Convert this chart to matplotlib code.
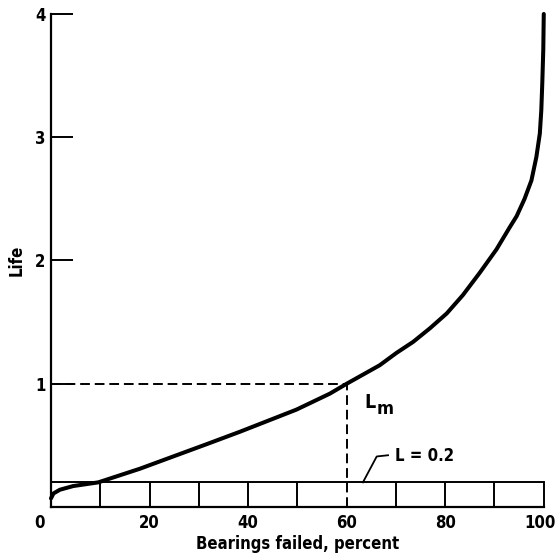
import matplotlib
matplotlib.use("Agg")
import matplotlib.pyplot as plt

plt.rcParams['font.family'] = ['DejaVu Sans']
plt.rcParams['font.stretch'] = 'condensed'
plt.rcParams['font.weight'] = 'bold'

## Data
pct_failed = [0, 0.5, 1.8, 4.5, 9.6, 18, 24.8, 31.6, 38.3, 43.1, 49.8, 56.6, 60,
              66.7, 70.1, 73.5, 76.9, 80.3, 83.6, 87, 90.4, 93.1, 94.5, 96.1,
              97.5, 98.5, 99.2, 99.5, 99.7, 99.9, 100]
life = [0.07, 0.11, 0.14, 0.17, 0.2, 0.31, 0.41, 0.51, 0.61, 0.685, 0.79, 0.92, 1.0,
        1.15, 1.25, 1.34, 1.45, 1.57, 1.72, 1.90, 2.09, 2.27, 2.36, 2.50,
        2.65, 2.84, 3.03, 3.22, 3.44, 3.71, 4.0]
x_ticks = [0, 20, 40, 60, 80, 100]
y_ticks = [1, 2, 3, 4]
grid_x = [10, 20, 30, 40, 50, 70, 80, 90, 100]
L_limit = 0.2
L_median = 1.0
pct_median = 60
leader_x = [63.3, 66.1, 68.4]
leader_y = [0.2, 0.41, 0.42]

## Figure
fig = plt.figure(figsize=(5.56, 5.59), dpi=100)
ax = fig.add_axes([0.0917, 0.093, 0.8863, 0.882])
ax.set_xlim(0, 100)
ax.set_ylim(0, 4)

for s in ['top', 'right']:
    ax.spines[s].set_visible(False)
for s in ['left', 'bottom']:
    ax.spines[s].set_linewidth(1.6)

# life curve
ax.plot(pct_failed, life, color='black', lw=2.9, solid_capstyle='round',
        solid_joinstyle='round', clip_on=False)

# L = 0.2 band with the short tick lines
ax.plot([0, 100], [L_limit, L_limit], color='black', lw=1.4, clip_on=False)
ax.vlines(grid_x, 0, L_limit, color='black', lw=1.4, clip_on=False)

# median life dashes
ax.plot([0, pct_median], [L_median, L_median], color='black', lw=1.4, dashes=(5, 2.5))
ax.plot([pct_median, pct_median], [0, L_median], color='black', lw=1.4, dashes=(5, 2.5))

# labels on the plot
ax.text(63.6, 0.80, 'L', fontsize=14, ha='left', va='baseline')
ax.text(66.0, 0.755, 'm', fontsize=13, ha='left', va='baseline')
ax.plot(leader_x, leader_y, color='black', lw=1.3)
ax.text(69.8, 0.41, 'L = 0.2', fontsize=12, ha='left', va='center')

# axes
ax.set_yticks(y_ticks)
ax.set_yticklabels([str(v) for v in y_ticks])
ax.tick_params(axis='y', direction='in', length=16, width=1.4, pad=4, labelsize=12)
ax.set_xticks(x_ticks)
ax.set_xticklabels(['' if v in (0, 100) else str(v) for v in x_ticks])
ax.tick_params(axis='x', length=0, pad=5, labelsize=12)
# end labels sit a bit off the tick positions in the original
ax.annotate(str(x_ticks[0]), xy=(x_ticks[0], 0), xycoords='data',
            xytext=(-8, -5), textcoords='offset points',
            ha='center', va='top', fontsize=12, annotation_clip=False)
ax.annotate(str(x_ticks[-1]), xy=(x_ticks[-1], 0), xycoords='data',
            xytext=(-3, -5), textcoords='offset points',
            ha='center', va='top', fontsize=12, annotation_clip=False)

ax.set_xlabel('Bearings failed, percent', fontsize=12, fontweight='bold', labelpad=2)
ax.set_ylabel('Life', fontsize=12, fontweight='bold', labelpad=7)

fig.savefig('out.png', dpi=100)
